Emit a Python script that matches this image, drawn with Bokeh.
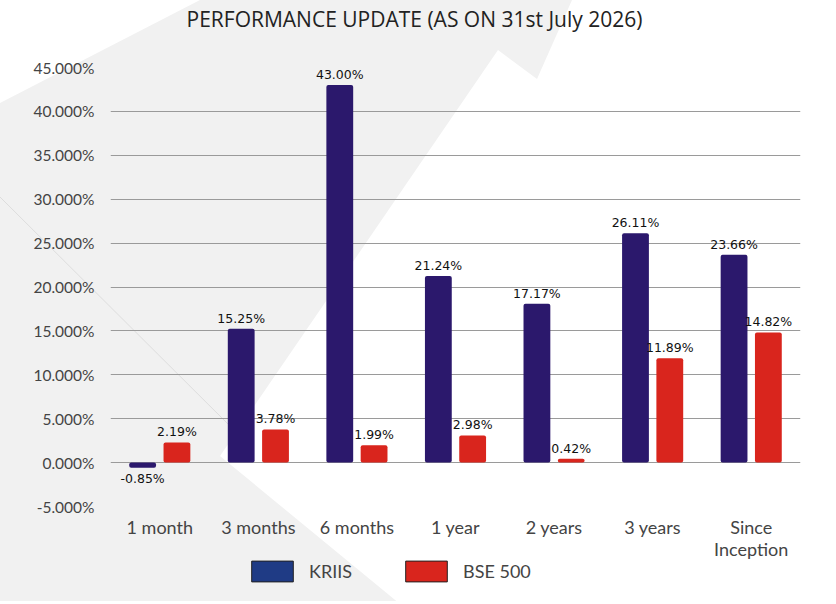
from bokeh.plotting import figure
from bokeh.layouts import column
from bokeh.models import (ColumnDataSource, FactorRange, Range1d, FixedTicker,
                          PrintfTickFormatter, Legend, LegendItem, Label)
from bokeh.transform import dodge
from bokeh.core.properties import value
from bokeh.embed import file_html
from bokeh.resources import INLINE

# ---- data ----
categories = ["1 month", "3 months", "6 months", "1 year", "2 years", "3 years", "Since\nInception"]
kriis_values = [-0.6, 15.25, 43.0, 21.24, 18.1, 26.11, 23.66]
kriis_labels = ["-0.85%", "15.25%", "43.00%", "21.24%", "17.17%", "26.11%", "23.66%"]
bse_values = [2.3, 3.78, 1.99, 3.1, 0.45, 11.89, 14.82]
bse_labels = ["2.19%", "3.78%", "1.99%", "2.98%", "0.42%", "11.89%", "14.82%"]
y_ticks = [-5, 0, 5, 10, 15, 20, 25, 30, 35, 40, 45]
series_names = ["KRIIS", "BSE 500"]
title_text = "PERFORMANCE UPDATE (AS ON 31st July 2026)"

KRIIS_COLOR = "#2b186c"
BSE_COLOR = "#d9251d"
FONT = "Lato"
W = 836

def bare(fig):
    fig.outline_line_color = None
    fig.background_fill_alpha = 0
    fig.border_fill_alpha = 0
    fig.xgrid.grid_line_color = None
    fig.ygrid.grid_line_color = None
    return fig

# ---- title strip (frame is aligned with the chart frame: x 110..800) ----
pt = figure(width=W, height=50, x_range=Range1d(110, 800), y_range=Range1d(50, 0),
            x_axis_type=None, y_axis_type=None, output_backend="svg", toolbar_location=None,
            min_border=0)
bare(pt)
pt.add_layout(Label(x=414, y=18, text=title_text, text_align="center", text_baseline="middle",
                    text_font="Open Sans", text_font_size="21px", text_color="#222222"))

# ---- main chart ----
def make_source(vals, labels):
    return ColumnDataSource(dict(
        cat=categories,
        val=vals,
        lab=labels,
        base=["bottom" if v >= 0 else "top" for v in vals],
        yoff=[-3 if v >= 0 else 3 for v in vals],
    ))

src_k = make_source(kriis_values, kriis_labels)
src_b = make_source(bse_values, bse_labels)

p = figure(width=W, height=516, x_range=FactorRange(*categories, range_padding=0),
           y_range=Range1d(-5, 45), output_backend="svg", toolbar_location=None,
           min_border_left=110, min_border_right=36, min_border_top=17, min_border_bottom=60)
p.x_range.factor_padding = 0
bare(p)

w = 0.272
off = 0.174
p.vbar(x=dodge("cat", -off, range=p.x_range), top="val", bottom=0, width=w, source=src_k,
       fill_color=KRIIS_COLOR, line_color=None, border_radius=2)
p.vbar(x=dodge("cat", off, range=p.x_range), top="val", bottom=0, width=w, source=src_b,
       fill_color=BSE_COLOR, line_color=None, border_radius=2)

for src, d in ((src_k, -off), (src_b, off)):
    p.text(x=dodge("cat", d, range=p.x_range), y="val", text="lab", source=src,
           text_align="center", text_baseline="base", y_offset="yoff",
           text_font=value("DejaVu Sans"), text_font_size="12.5px", text_color="#111111")

p.yaxis.ticker = FixedTicker(ticks=y_ticks)
p.yaxis.formatter = PrintfTickFormatter(format="%.3f%%")
p.yaxis.axis_line_color = None
p.yaxis.major_tick_line_color = None
p.yaxis.minor_tick_line_color = None
p.yaxis.major_label_text_font = FONT
p.yaxis.major_label_text_font_size = "15.5px"
p.yaxis.major_label_text_color = "#444444"
p.yaxis.major_label_standoff = 10

p.xaxis.axis_line_color = None
p.xaxis.major_tick_line_color = None
p.xaxis.minor_tick_line_color = None
p.xaxis.major_label_text_font = FONT
p.xaxis.major_label_text_font_size = "18px"
p.xaxis.major_label_text_color = "#444444"
p.xaxis.major_label_text_baseline = "middle"
p.xaxis.major_label_text_line_height = 1.0
p.xaxis.major_label_standoff = 3

p.ygrid.grid_line_color = "#9a9a9a"
p.ygrid.grid_line_width = 1

# ---- legend strip ----
pl = figure(width=W, height=45, x_range=Range1d(0, 1), y_range=Range1d(0, 1),
            x_axis_type=None, y_axis_type=None, output_backend="svg", toolbar_location=None,
            min_border=0)
bare(pl)
pl.margin = (-10, 0, 0, 0)
# legend proxies (kept outside the visible range; only their legend swatches show)
r1 = pl.vbar(x=[-1], top=[-1], bottom=[-1], width=0.1, fill_color="#1f3b85", line_color="#222222")
r2 = pl.vbar(x=[-1], top=[-1], bottom=[-1], width=0.1, fill_color=BSE_COLOR, line_color="#222222")
legend = Legend(items=[LegendItem(label=series_names[0], renderers=[r1]),
                       LegendItem(label=series_names[1], renderers=[r2])],
                location=(136, 17), orientation="horizontal",
                glyph_width=52, glyph_height=26, padding=0, margin=0, spacing=48,
                label_standoff=11, label_text_font=FONT, label_text_font_size="18px",
                label_text_color="#444444", border_line_color=None,
                background_fill_alpha=0)
pl.add_layout(legend)

# decorative background shape behind the whole page
bg_svg = ("<svg xmlns='http://www.w3.org/2000/svg' width='836' height='604'>"
          "<polygon points='0,103 200,0 572,0 537,79 498,50 220,456 400,604 0,604' fill='%23f1f1f1'/>"
          "<line x1='0' y1='197' x2='237' y2='433' stroke='%23dddddd' stroke-width='1'/></svg>")
layout = column(pt, p, pl, spacing=0)
layout.styles = {"background-color": "white",
                 "background-image": 'url("data:image/svg+xml;utf8,' + bg_svg + '")',
                 "background-repeat": "no-repeat"}

open("out.html", "w").write(file_html(layout, INLINE))
